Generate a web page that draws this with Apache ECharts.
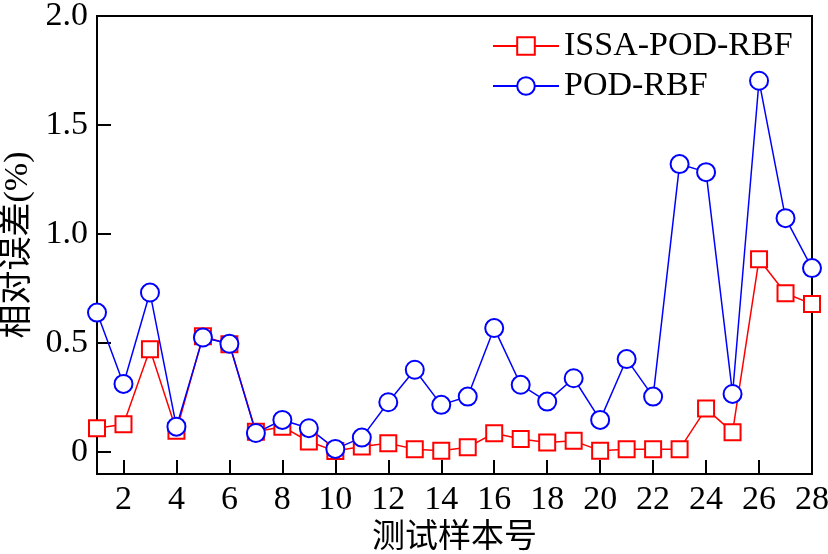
<!DOCTYPE html>
<html>
<head>
<meta charset="utf-8">
<script src="https://cdn.jsdelivr.net/npm/echarts@6/dist/echarts.min.js"></script>
<style>
html,body{margin:0;padding:0;background:#fff;}
#chart{width:828px;height:554px;}
</style>
</head>
<body>
<div id="chart"></div>
<script>
var samples = [1,2,3,4,5,6,7,8,9,10,11,12,13,14,15,16,17,18,19,20,21,22,23,24,25,26,27,28];
var issaPodRbf = [0.11,0.128,0.472,0.098,0.532,0.495,0.094,0.117,0.049,0.005,0.026,0.041,0.014,0.007,0.023,0.087,0.06,0.044,0.052,0.007,0.014,0.014,0.014,0.2,0.092,0.885,0.729,0.679];
var podRbf = [0.64,0.313,0.732,0.117,0.526,0.497,0.088,0.148,0.11,0.015,0.067,0.229,0.378,0.217,0.255,0.569,0.309,0.232,0.339,0.148,0.427,0.255,1.321,1.284,0.267,1.703,1.073,0.844];
var xTicks = [2,4,6,8,10,12,14,16,18,20,22,24,26,28];
var yTicks = [0,0.5,1.0,1.5,2.0];
var seriesNames = ['ISSA-POD-RBF','POD-RBF'];

var FONT = "'Liberation Serif','Noto Sans CJK SC',serif";
var chart = echarts.init(document.getElementById('chart'), null, {renderer:'canvas'});
function pairs(vals){ return samples.map(function(s,i){ return [s, vals[i]]; }); }
chart.setOption({
  backgroundColor:'#fff',
  animation:false,
  grid:{left:97,right:16,top:16,bottom:80,containLabel:false,outerBoundsMode:'none',
        show:true,borderColor:'#000',borderWidth:2,backgroundColor:'transparent'},
  legend:{
    orient:'vertical', left:487, top:24, itemWidth:66, itemHeight:22, itemGap:6,
    textStyle:{fontFamily:FONT,fontSize:34,color:'#000',lineHeight:34},
    data:seriesNames
  },
  xAxis:{
    type:'value', min:1, max:28,
    name:'测试样本号', nameLocation:'middle', nameGap:44,
    nameTextStyle:{fontFamily:FONT,fontSize:33,color:'#000'},
    axisLine:{onZero:false,lineStyle:{color:'#000',width:2}},
    axisTick:{inside:true,length:14,customValues:xTicks,lineStyle:{color:'#000',width:2}},
    axisLabel:{customValues:xTicks,fontFamily:FONT,fontSize:34,color:'#000',margin:9},
    splitLine:{show:false}
  },
  yAxis:{
    type:'value', min:-0.1, max:2.0,
    name:'相对误差(%)', nameLocation:'middle', nameGap:62, nameRotate:90,
    nameTextStyle:{fontFamily:FONT,fontSize:34,color:'#000'},
    axisLine:{onZero:false,lineStyle:{color:'#000',width:2}},
    axisTick:{inside:true,length:14,customValues:yTicks,lineStyle:{color:'#000',width:2}},
    axisLabel:{customValues:yTicks,fontFamily:FONT,fontSize:34,color:'#000',margin:9,
      formatter:function(v){ return v===0 ? '0' : v.toFixed(1); }},
    splitLine:{show:false}
  },
  series:[
    {name:seriesNames[0], type:'line', data:pairs(issaPodRbf), symbol:'rect', symbolSize:16,
     lineStyle:{color:'#ff0000',width:1.5},
     itemStyle:{color:'#ffffff',borderColor:'#ff0000',borderWidth:2}},
    {name:seriesNames[1], type:'line', data:pairs(podRbf), symbol:'circle', symbolSize:18,
     lineStyle:{color:'#0000ff',width:1.5},
     itemStyle:{color:'#ffffff',borderColor:'#0000ff',borderWidth:2}}
  ]
});
</script>
</body>
</html>
